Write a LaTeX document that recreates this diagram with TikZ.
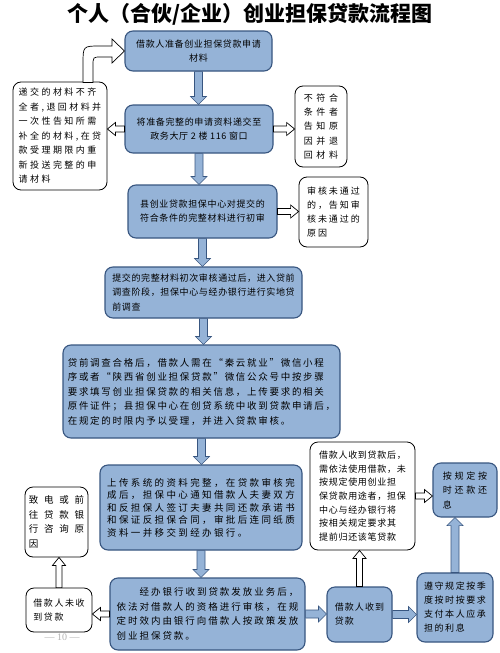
\documentclass[tikz,border=0pt]{standalone}
\usepackage{fontspec}
\setmainfont{Noto Sans CJK SC}
\newfontfamily\pagefont{Liberation Serif}
\usetikzlibrary{calc}
\definecolor{boxblue}{RGB}{149,179,215}
\definecolor{boxedge}{RGB}{56,86,128}
\tikzstyle{block} = [rectangle, rounded corners=8pt, draw=boxedge, fill=boxblue, line width=1.1pt, inner sep=0pt]
\tikzstyle{note} = [rectangle, rounded corners=8pt, draw=black, fill=white, line width=0.8pt, inner sep=0pt]
\tikzstyle{bluearrow} = [draw=boxedge, fill=boxblue, line width=0.6pt]
\tikzstyle{openarrow} = [draw=black, fill=white, line width=0.7pt]
\newcommand{\spaced}[3]{\fontsize{#1}{#2}\selectfont\addfontfeature{LetterSpace=#3}}
\newcommand{\fatarrow}[6]{%
  \path[#1] let \p1=($(#3)-(#2)$), \n1={veclen(\x1,\y1)}, \n2={atan2(\y1,\x1)} in
    [shift={(#2)}, rotate=\n2]
    (0pt,-#4) -- (\n1-#6,-#4) -- (\n1-#6,-#5) -- (\n1,0pt) -- (\n1-#6,#5) -- (\n1-#6,#4) -- (0pt,#4) -- cycle;}
\newcommand{\bluearr}[2]{\fatarrow{bluearrow}{#1}{#2}{4pt}{8pt}{8pt}}
\newcommand{\openarr}[2]{\fatarrow{openarrow}{#1}{#2}{3pt}{6.5pt}{8pt}}

\begin{document}
\begin{tikzpicture}[x=1pt, y=-1pt]
  \useasboundingbox (0,0) rectangle (500,653);
  \node (title) at (250,14) {\fontsize{21}{24}\selectfont\bfseries 个人（合伙/企业）创业担保贷款流程图};
  % main chain
  \node[block, minimum width=147pt, minimum height=40pt, align=center, font={\spaced{9}{14}{7}}] (b1) at (198.5,51) {借款人准备创业担保贷款申请\\材料};
  \node[block, minimum width=148pt, minimum height=48pt, align=center, font={\spaced{9}{14}{7}}] (b2) at (199,129) {将准备完整的申请资料递交至\\政务大厅 2 楼 116 窗口};
  \node[block, minimum width=149pt, minimum height=53pt, align=center, font={\spaced{9}{14}{7}}] (b3) at (202.5,211.5) {县创业贷款担保中心对提交的\\符合条件的完整材料进行初审};
  \node[block, minimum width=197pt, minimum height=51pt, align=left, font={\spaced{9}{14.5}{7}}] (b4) at (203.5,292.5) {提交的完整材料初次审核通过后，进入贷前\\调查阶段，担保中心与经办银行进行实地贷\\前调查};
  \node[block, minimum width=277pt, minimum height=93pt, align=left, font={\spaced{9.5}{14.5}{18}}] (b5) at (201.5,391.5) {贷前调查合格后，借款人需在“秦云就业”微信小程\\序或者“陕西省创业担保贷款”微信公众号中按步骤\\要求填写创业担保贷款的相关信息，上传要求的相关\\原件证件；县担保中心在创贷系统中收到贷款申请后，\\在规定的时限内予以受理，并进入贷款审核。};
  \node[block, minimum width=202pt, minimum height=85pt, align=left, font={\spaced{9.5}{12.5}{25}}] (b6) at (201,507.5) {上传系统的资料完整，在贷款审核完\\成后，担保中心通知借款人夫妻双方\\和反担保人签订夫妻共同还款承诺书\\和保证反担保合同，审批后连同纸质\\资料一并移交到经办银行。};
  \node[block, minimum width=195pt, minimum height=72pt, align=left, font={\spaced{9.5}{14.5}{21}}] (b7) at (207.5,614) {\hspace*{23pt}经办银行收到贷款发放业务后，\\依法对借款人的资格进行审核，在规\\定时效内由银行向借款人按政策发放\\创业担保贷款。};
  % side notes
  \node[note, minimum width=94pt, minimum height=108pt, align=left, font={\spaced{9}{14.5}{27}}] (l1) at (60,136) {递交的材料不齐\\全者,退回材料并\\一次性告知所需\\补全的材料,在贷\\款受理期限内重\\新投送完整的申\\请材料};
  \node[note, minimum width=52pt, minimum height=81pt, align=left, font={\spaced{9}{14.3}{39}}] (r1) at (321,126.5) {不符合\\条件者\\告知原\\因并退\\回材料};
  \node[note, minimum width=69pt, minimum height=70pt, align=left, font={\spaced{9}{14}{22}}] (r2) at (333.5,212) {审核未通过\\的，告知审\\核未通过的\\原因};
  \node[note, minimum width=63pt, minimum height=70pt, align=left, font={\spaced{9.5}{14.7}{60}}] (l2) at (56.5,522) {致电或前\\往贷款银\\行咨询原\\因};
  \node[note, minimum width=66pt, minimum height=44pt, align=left, font={\spaced{9}{14}{17}}] (l3) at (59,610) {借款人未收\\到贷款};
  \node[note, minimum width=105pt, minimum height=108pt, align=left, font={\spaced{9}{13.7}{8}}] (r3) at (362.5,496) {借款人收到贷款后，\\需依法使用借款，未\\按规定使用创业担\\保贷款用途者，担保\\中心与经办银行将\\按相关规定要求其\\提前归还该笔贷款};
  \node[block, minimum width=65pt, minimum height=55pt, align=left, font={\spaced{9}{14}{12}}] (b8) at (359.5,614.5) {借款人收到\\贷款};
  \node[block, minimum width=64pt, minimum height=54pt, align=left, font={\spaced{9}{14.5}{30}}] (b9) at (465,490) {按规定按\\时还款还\\息};
  \node[block, minimum width=76pt, minimum height=69pt, align=left, font={\spaced{9}{14}{17}}] (b10) at (455,607.5) {遵守规定按季\\度按时按要求\\支付本人应承\\担的利息};
  \node[text=gray!60, font=\pagefont\fontsize{10}{12}\selectfont] (page) at (62,637) {— 10 —};
  % arrows
  \bluearr{b1.south}{b1.south |- b2.north}
  \bluearr{b2.south}{b2.south |- b3.north}
  \bluearr{b3.south}{b3.south |- b4.north}
  \bluearr{b4.south}{b4.south |- b5.north}
  \bluearr{b5.south}{b5.south |- b6.north}
  \bluearr{b6.south}{b6.south |- b7.north}
  \bluearr{b7.east}{b7.east -| b8.west}
  \bluearr{b8.east}{b8.east -| b10.west}
  \bluearr{b10.north}{b10.north |- b9.south}
  \openarr{b2.east}{b2.east -| r1.west}
  \openarr{b2.west}{b2.west -| l1.east}
  \openarr{b3.east}{b3.east -| r2.west}
  \openarr{r3.east}{r3.east -| b9.west}
  \openarr{b8.north}{b8.north |- r3.south}
  \openarr{b7.west}{b7.west -| l3.east}
  \openarr{l3.north}{l3.north |- l2.south}
  \draw[openarrow] (83,82.5) -- (83,64) .. controls (83,46) .. (100,46) -- (112,46) -- (112,39) -- (b1.west) -- (112,63) -- (112,57) -- (101,57) .. controls (93,57) .. (93,66) -- (93,82.5) -- cycle;
\end{tikzpicture}
\end{document}
